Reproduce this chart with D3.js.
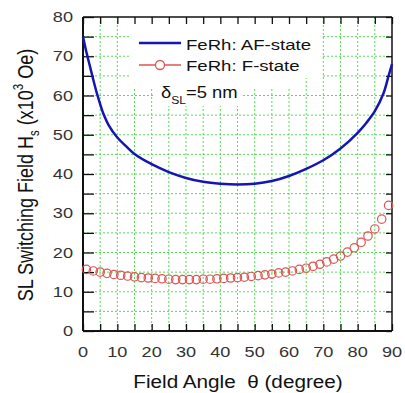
<!DOCTYPE html>
<html><head><meta charset="utf-8">
<script src="https://cdn.jsdelivr.net/npm/d3@7/dist/d3.min.js"></script>
<style>body{margin:0;background:#fff}svg{display:block}text{font-family:"Liberation Sans",Arial,sans-serif}</style>
</head><body>
<script>
const afAngles = [0,1,2,3,4,5,6,7.5,10,12.5,15,20,25,30,35,40,45,50,55,60,65,70,75,80,82.5,85,87.5,89,90];
const afValues = [75,71,67.5,64,60.7,57.8,55.2,52.4,49.3,47.1,45.1,42.5,40.5,39,38,37.5,37.3,37.5,38.2,39.5,41.3,43.5,46.5,50.5,53,56,60.5,65,68];
const fAngles = [1,3,5,7,9,11,13,15,17,19,21,23,25,27,29,31,33,35,37,39,41,43,45,47,49,51,53,55,57,59,61,63,65,67,69,71,73,75,77,79,81,83,85,87,89];
const fValues = [15.7,15.3,15.0,14.7,14.4,14.2,14.0,13.8,13.6,13.5,13.4,13.3,13.2,13.1,13.1,13.1,13.1,13.2,13.2,13.3,13.4,13.5,13.6,13.7,13.9,14.1,14.3,14.5,14.8,15.0,15.3,15.7,16.0,16.5,17.0,17.6,18.3,19.1,20.1,21.2,22.6,24.2,26.0,28.5,32.0];
const xTickLabels = [0,10,20,30,40,50,60,70,80,90];
const yTickLabels = [0,10,20,30,40,50,60,70,80];
const seriesNames = ["FeRh: AF-state","FeRh: F-state"];

const W=405,H=393;
const L=83,R=392,T=17,B=331;
const SX=1.25;
const svg=d3.select("body").append("svg").attr("width",W).attr("height",H);
const x=d3.scaleLinear().domain([0,90]).range([L,R]);
const y=d3.scaleLinear().domain([0,80]).range([B,T]);
const minorX=d3.range(0,91,5), minorY=d3.range(0,81,5);

// grid
const grid=svg.append("g").attr("stroke","#55dd55").attr("stroke-width",1).attr("stroke-dasharray","2,2");
minorX.slice(1,-1).forEach(v=>grid.append("line").attr("x1",x(v)).attr("x2",x(v)).attr("y1",T).attr("y2",B));
minorY.slice(1,-1).forEach(v=>grid.append("line").attr("x1",L).attr("x2",R).attr("y1",y(v)).attr("y2",y(v)));

// legend mask
const mask=svg.append("g").attr("fill","#fff");
mask.append("rect").attr("x",131).attr("y",T+1).attr("width",190).attr("height",60);
mask.append("rect").attr("x",131).attr("y",T+60).attr("width",170).attr("height",11);
mask.append("rect").attr("x",155).attr("y",86).attr("width",86).attr("height",20);

// axes with ticks
const axB=d3.axisBottom(x).tickValues(minorX).tickSize(-7).tickFormat("");
const axT=d3.axisTop(x).tickValues(minorX).tickSize(-7).tickFormat("");
const axL=d3.axisLeft(y).tickValues(minorY).tickSize(-11).tickFormat("");
const axR=d3.axisRight(y).tickValues(minorY).tickSize(-6).tickFormat("");
function styl(g){g.select(".domain").remove();g.selectAll("line").attr("stroke","#111").attr("stroke-width",1.3);}
svg.append("g").attr("transform",`translate(0,${B})`).call(axB).call(styl);
svg.append("g").attr("transform",`translate(0,${T})`).call(axT).call(styl);
svg.append("g").attr("transform",`translate(${L},0)`).call(axL).call(styl);
svg.append("g").attr("transform",`translate(${R},0)`).call(axR).call(styl);
svg.append("line").attr("x1",L).attr("x2",R).attr("y1",B).attr("y2",B).attr("stroke","#111").attr("stroke-width",2);
svg.append("line").attr("x1",L).attr("x2",L).attr("y1",T).attr("y2",B).attr("stroke","#111").attr("stroke-width",2);
svg.append("line").attr("x1",L).attr("x2",R).attr("y1",T).attr("y2",T).attr("stroke","#111").attr("stroke-width",1.5);
svg.append("line").attr("x1",R).attr("x2",R).attr("y1",T).attr("y2",B).attr("stroke","#111").attr("stroke-width",1.5);

// tick labels
svg.append("g").selectAll("text").data(xTickLabels).join("text")
  .attr("transform",d=>`translate(${x(d)},357) scale(${SX},1)`).attr("text-anchor","middle").attr("font-size",14.5).attr("fill","#333").text(d=>d);
svg.append("g").selectAll("text").data(yTickLabels).join("text")
  .attr("transform",d=>`translate(73,${y(d)+5}) scale(${SX},1)`).attr("text-anchor","end").attr("font-size",14.5).attr("fill","#333").text(d=>d);

// axis titles
svg.append("text").attr("transform",`translate(238,388) scale(1.12,1)`).attr("text-anchor","middle").attr("font-size",18.5).attr("fill","#111").text("Field Angle\u00a0 θ (degree)");
const yt=svg.append("text").attr("transform","translate(33,175) rotate(-90) scale(1,1.2)").attr("text-anchor","middle").attr("font-size",18).attr("fill","#111");
yt.append("tspan").text("SL Switching Field H");
yt.append("tspan").attr("font-size",11.5).attr("dy",5).text("s");
yt.append("tspan").attr("dy",-5).text(" (x10");
yt.append("tspan").attr("font-size",11.5).attr("dy",-8).text("3");
yt.append("tspan").attr("dy",8).text(" Oe)");

// AF line
const line=d3.line().x((d,i)=>x(afAngles[i])).y(d=>y(d)).curve(d3.curveCatmullRom.alpha(0.5));
svg.append("path").datum(afValues).attr("d",line).attr("fill","none").attr("stroke","#1515b5").attr("stroke-width",2.5);

// F circles
svg.append("g").selectAll("circle").data(fValues).join("circle")
  .attr("cx",(d,i)=>x(fAngles[i])).attr("cy",d=>y(d)).attr("r",4.2)
  .attr("fill","none").attr("stroke","#dd5555").attr("stroke-width",1.2);

// legend
svg.append("line").attr("x1",139).attr("x2",181).attr("y1",43).attr("y2",43).attr("stroke","#1515b5").attr("stroke-width",2.5);
svg.append("line").attr("x1",139).attr("x2",181).attr("y1",65).attr("y2",65).attr("stroke","#dd5555").attr("stroke-width",1.3);
svg.append("circle").attr("cx",160).attr("cy",65).attr("r",4.5).attr("fill","#fff").attr("stroke","#dd5555").attr("stroke-width",1.3);
svg.append("g").selectAll("text").data(seriesNames).join("text")
  .attr("transform",(d,i)=>`translate(186,${50+i*21}) scale(1.2,1)`).attr("font-size",15.5).attr("fill","#111").text(d=>d);
const dt=svg.append("text").attr("transform","translate(161,98) scale(1.15,1)").attr("font-size",16).attr("fill","#111");
dt.append("tspan").text("δ");
dt.append("tspan").attr("font-size",10.5).attr("dy",6).text("SL");
dt.append("tspan").attr("dy",-6).text("=5 nm");
</script>
</body></html>
